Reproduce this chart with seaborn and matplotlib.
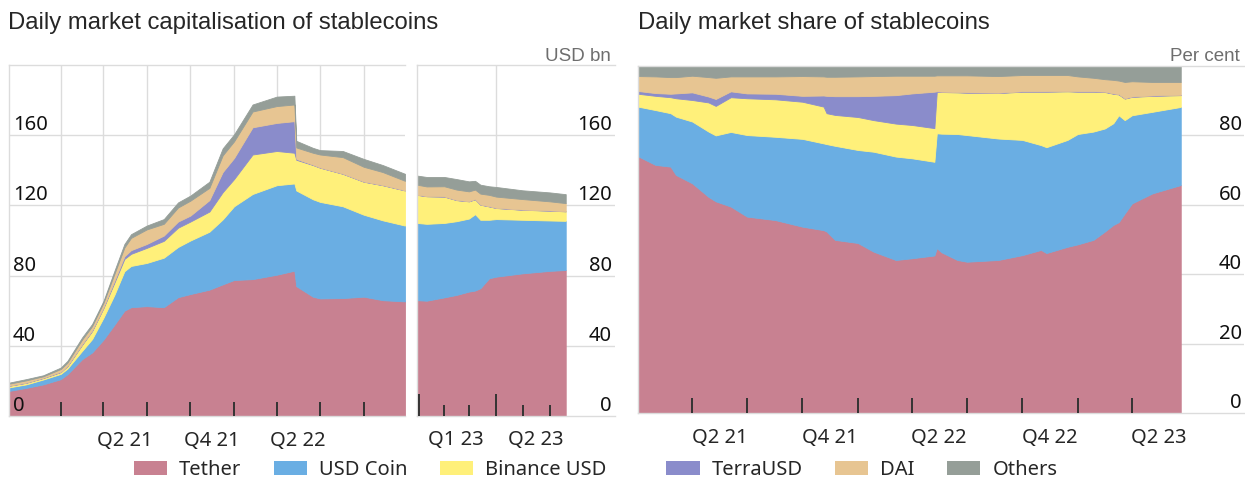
import pandas as pd
import matplotlib.pyplot as plt
import matplotlib.transforms as mtransforms
from matplotlib.patches import Patch
import seaborn as sns

sns.set_theme(style="white")
plt.rcParams['font.family'] = ['Noto Sans', 'DejaVu Sans']
plt.rcParams['axes.axisbelow'] = False

# ---- data: market capitalisation, USD bn (first block, Sep 2020 - Dec 2022)
dates_1 = ['2020-09-14', '2020-10-20', '2020-11-25', '2021-01-01', '2021-01-15', '2021-02-15',
           '2021-03-08', '2021-04-01', '2021-04-24', '2021-05-15', '2021-05-29', '2021-07-01',
           '2021-08-06', '2021-09-05', '2021-10-01', '2021-11-10', '2021-12-08', '2022-01-01',
           '2022-02-09', '2022-04-01', '2022-05-08', '2022-05-12', '2022-06-16', '2022-07-01',
           '2022-08-18', '2022-10-01', '2022-11-10', '2022-12-27']
tether_1 = [14.3, 16.0, 18.0, 21.0, 23.8, 32.4, 36.2, 43.5, 52.0, 60.0, 62.0, 62.6, 62.0, 67.7,
            69.5, 72.0, 75.0, 77.5, 78.0, 80.5, 82.8, 74.0, 68.0, 67.0, 67.2, 68.0, 66.0, 65.3]
usdc_1 = [2.0, 2.0, 2.8, 3.0, 3.2, 4.7, 7.6, 12.5, 17.0, 22.5, 23.5, 24.6, 28.2, 28.6,
          30.5, 33.0, 37.0, 42.0, 48.5, 51.0, 49.7, 54.5, 55.5, 55.0, 52.3, 46.7, 45.5, 43.2]
busd_1 = [0.9, 0.9, 0.8, 1.0, 1.4, 3.5, 4.6, 5.5, 7.0, 7.0, 6.9, 8.6, 9.6, 11.0,
          10.8, 11.5, 15.5, 15.5, 22.5, 19.5, 17.5, 17.5, 19.5, 19.5, 18.5, 18.8, 20.0, 20.0]
terra_1 = [0.1, 0.1, 0.2, 0.2, 0.2, 0.3, 0.4, 0.5, 1.0, 1.5, 2.1, 2.2, 3.0, 3.5,
           3.4, 6.5, 11.5, 12.0, 15.5, 16.0, 18.0, 0.5, 0.2, 0.1, 0.1, 0.1, 0.1, 0.1]
dai_1 = [1.1, 1.3, 0.8, 1.6, 1.8, 2.7, 2.4, 2.5, 4.0, 5.0, 7.0, 8.3, 6.7, 8.0,
         8.5, 7.0, 9.5, 9.5, 9.0, 9.6, 9.5, 6.5, 6.8, 7.4, 9.4, 8.4, 7.4, 5.4]
others_1 = [0.6, 0.7, 0.6, 0.8, 1.0, 1.2, 1.2, 1.1, 1.7, 2.0, 2.1, 2.2, 2.7, 2.9,
            2.9, 3.5, 4.0, 4.0, 4.0, 5.4, 5.0, 3.8, 2.8, 2.5, 3.5, 4.5, 4.0, 4.0]

# ---- data: market capitalisation, USD bn (second block, 2023)
dates_2 = ['2023-01-01', '2023-01-12', '2023-02-01', '2023-02-15', '2023-03-01', '2023-03-08',
           '2023-03-14', '2023-03-24', '2023-04-01', '2023-05-01', '2023-06-01', '2023-06-19']
tether_2 = [66.0, 65.7, 67.6, 69.0, 70.9, 71.5, 72.8, 78.5, 79.4, 81.3, 82.7, 83.2]
usdc_2 = [44.0, 43.8, 42.4, 42.0, 41.6, 43.5, 39.0, 33.3, 32.8, 30.5, 28.7, 28.0]
busd_2 = [16.0, 15.7, 15.0, 12.0, 9.8, 8.5, 8.6, 7.6, 6.3, 5.7, 5.6, 5.4]
terra_2 = [0.1, 0.1, 0.1, 0.1, 0.1, 0.1, 0.1, 0.1, 0.1, 0.1, 0.1, 0.1]
dai_2 = [5.7, 5.5, 5.8, 5.9, 5.6, 5.4, 6.2, 6.5, 6.4, 6.0, 5.2, 4.6]
others_2 = [5.2, 5.4, 5.3, 6.0, 5.7, 5.0, 5.1, 4.9, 5.5, 5.0, 5.1, 5.1]

# ---- data: market share, per cent
dates_s = ['2021-01-01', '2021-01-30', '2021-02-24', '2021-03-05', '2021-04-01', '2021-04-28',
           '2021-05-10', '2021-06-04', '2021-07-01', '2021-08-17', '2021-10-01', '2021-11-05',
           '2021-11-10', '2021-11-24', '2022-01-01', '2022-01-27', '2022-03-05', '2022-04-01',
           '2022-05-08', '2022-05-12', '2022-05-20', '2022-06-15', '2022-07-01', '2022-08-22',
           '2022-10-01', '2022-11-01', '2022-11-10', '2022-12-15', '2023-01-01', '2023-01-27',
           '2023-02-15', '2023-03-01', '2023-03-10', '2023-03-20', '2023-04-01', '2023-05-05',
           '2023-06-21']
tether_s = [74.0, 71.5, 71.0, 68.6, 66.2, 62.3, 61.0, 59.5, 56.6, 55.6, 53.7, 52.7, 52.3, 49.9,
            49.0, 46.5, 44.1, 44.6, 45.4, 47.5, 46.3, 44.1, 43.6, 44.1, 45.5, 47.0, 46.1, 47.9,
            48.6, 49.9, 52.3, 54.2, 55.0, 57.5, 60.4, 63.3, 65.7]
usdc_s = [14.3, 15.8, 15.4, 16.8, 17.8, 18.8, 19.0, 21.5, 23.5, 24.0, 25.3, 25.0, 25.2, 27.1,
          26.8, 28.8, 29.8, 28.8, 27.0, 33.1, 34.2, 36.3, 36.5, 35.0, 33.2, 30.2, 30.5, 30.8,
          31.8, 31.2, 29.7, 29.3, 30.8, 26.9, 25.4, 23.5, 22.5]
busd_s = [3.7, 4.1, 4.6, 5.3, 6.2, 8.4, 8.5, 10.0, 10.6, 10.8, 10.7, 10.6, 8.9, 8.9,
          9.5, 9.1, 9.5, 9.6, 9.7, 12.0, 12.0, 12.0, 12.2, 13.1, 13.9, 15.4, 16.0, 14.0,
          12.2, 11.5, 10.5, 8.5, 6.0, 6.2, 5.3, 4.6, 3.4]
terra_s = [0.8, 0.8, 1.0, 1.4, 2.2, 1.7, 2.0, 1.7, 1.4, 1.6, 1.7, 3.2, 5.0, 5.4,
           6.0, 7.0, 8.2, 9.1, 10.5, 0.1, 0.1, 0.1, 0.1, 0.1, 0.1, 0.1, 0.1, 0.1,
           0.1, 0.1, 0.1, 0.1, 0.1, 0.1, 0.1, 0.1, 0.1]
dai_s = [4.3, 4.8, 4.8, 4.7, 4.8, 5.6, 6.1, 4.3, 4.9, 5.0, 5.7, 5.5, 5.5, 5.6,
         5.7, 5.7, 5.6, 5.1, 4.6, 4.6, 4.7, 4.8, 4.9, 4.8, 4.7, 4.7, 4.7, 4.6,
         4.3, 3.9, 3.6, 3.9, 3.9, 4.7, 4.4, 3.9, 3.7]
others_s = [2.9, 3.0, 3.2, 3.2, 2.8, 3.2, 3.4, 3.0, 3.0, 3.0, 2.9, 3.0, 3.1, 3.1,
            3.0, 2.9, 2.8, 2.8, 2.8, 2.7, 2.7, 2.7, 2.7, 2.9, 2.6, 2.6, 2.6, 2.6,
            3.0, 3.4, 3.8, 4.0, 4.2, 4.6, 4.4, 4.6, 4.6]

coins = ['Tether', 'USD Coin', 'Binance USD', 'TerraUSD', 'DAI', 'Others']
palette = sns.color_palette(['#C88191', '#6AAEE3', '#FFF07A', '#8A8CCB', '#E7C592', '#959E98'])

GRID = '#dcdcdc'
TICK = '#333333'
FS = 14.5
W, H = 1245, 483


def px_box(x0, y0, x1, y1):
    return [x0 / W, 1 - y1 / H, (x1 - x0) / W, (y1 - y0) / H]


def draw_stack(ax, dates, series):
    polys = ax.stackplot(pd.to_datetime(dates), *series, colors=palette, linewidth=0.6, zorder=1)
    for p in polys:
        p.set_edgecolor(p.get_facecolor())


def frame(ax, ymax, yvals, side, offset_px):
    ax.set_axisbelow(False)
    ax.set_ylim(0, ymax)
    ax.set_yticks([])
    for s in ['top', 'left', 'bottom']:
        ax.spines[s].set_color(GRID)
        ax.spines[s].set_linewidth(1)
    ax.spines['right'].set_visible(False)
    for v in yvals[1:]:
        ax.axhline(v, color=GRID, lw=1, zorder=0)
    trans = mtransforms.blended_transform_factory(ax.transAxes, ax.transData)
    width_px = ax.get_position().width * W
    for v in yvals:
        if side == 'left':
            ax.text(offset_px / width_px, v, str(v), transform=trans, ha='left', va='bottom',
                    fontsize=FS, color='#111111', zorder=5)
        else:
            ax.text(1 - offset_px / width_px, v, str(v), transform=trans, ha='right', va='bottom',
                    fontsize=FS, color='#111111', zorder=5)


fig = plt.figure(figsize=(W / 100, H / 100), dpi=100)

# left panel, first block
ax1 = fig.add_axes(px_box(9, 65, 405, 416))
draw_stack(ax1, dates_1, [tether_1, usdc_1, busd_1, terra_1, dai_1, others_1])
ax1.set_xlim(pd.Timestamp('2020-09-14'), pd.Timestamp('2022-12-27'))
q_starts_1 = pd.to_datetime(['2021-01-01', '2021-04-01', '2021-07-01', '2021-10-01',
                             '2022-01-01', '2022-04-01', '2022-07-01', '2022-10-01'])
for d in q_starts_1:
    ax1.axvline(d, color=GRID, lw=1, zorder=0)
frame(ax1, 200, [0, 40, 80, 120, 160], 'left', 4)
ax1.set_xticks(q_starts_1)
ax1.set_xticks(pd.to_datetime(['2021-05-16', '2021-11-15', '2022-05-16']),
               labels=['Q2 21', 'Q4 21', 'Q2 22'], minor=True)
ax1.tick_params(axis='x', which='major', bottom=True, direction='in', length=10, width=1.4,
                color=TICK, labelbottom=False)
ax1.tick_params(axis='x', which='minor', bottom=True, length=0, pad=11, labelsize=FS)

# left panel, second block (2023)
ax2 = fig.add_axes(px_box(417, 65, 615, 416))
draw_stack(ax2, dates_2, [tether_2, usdc_2, busd_2, terra_2, dai_2, others_2])
ax2.set_xlim(pd.Timestamp('2023-01-01'), pd.Timestamp('2023-08-14'))
ax2.axvline(pd.Timestamp('2023-04-01'), color=GRID, lw=1, zorder=0)
frame(ax2, 200, [0, 40, 80, 120, 160], 'right', 3)
ax2.set_xticks(pd.to_datetime(['2023-01-03', '2023-04-01']))
ax2.set_xticks(pd.to_datetime(['2023-02-01', '2023-03-01', '2023-05-01', '2023-06-01']), minor=True)
ax2.tick_params(axis='x', which='major', bottom=True, direction='in', length=16, width=1.4,
                color=TICK, labelbottom=False)
ax2.tick_params(axis='x', which='minor', bottom=True, direction='in', length=8, width=1.4,
                color=TICK, labelbottom=False)
trans2 = mtransforms.blended_transform_factory(ax2.transData, ax2.transAxes)
for d, lab in zip(pd.to_datetime(['2023-02-14', '2023-05-16']), ['Q1 23', 'Q2 23']):
    ax2.text(d, -0.04, lab, transform=trans2, ha='center', va='top', fontsize=FS)

# right panel, market share
ax3 = fig.add_axes(px_box(638, 66, 1244, 413))
draw_stack(ax3, dates_s, [tether_s, usdc_s, busd_s, terra_s, dai_s, others_s])
ax3.set_xlim(pd.Timestamp('2021-01-01'), pd.Timestamp('2023-10-04'))
frame(ax3, 100, [0, 20, 40, 60, 80], 'right', 2)
ax3.set_xticks(pd.date_range('2021-04-01', '2023-04-01', freq='QS'))
ax3.set_xticks(pd.to_datetime(['2021-05-16', '2021-11-15', '2022-05-16', '2022-11-15', '2023-05-16']),
               labels=['Q2 21', 'Q4 21', 'Q2 22', 'Q4 22', 'Q2 23'], minor=True)
ax3.tick_params(axis='x', which='major', bottom=True, direction='in', length=11, width=1.4,
                color=TICK, labelbottom=False)
ax3.tick_params(axis='x', which='minor', bottom=True, length=0, pad=11, labelsize=FS)

# titles and units
fig.text(8 / W, 1 - 29 / H, 'Daily market capitalisation of stablecoins', fontsize=17.2,
         family='Liberation Sans', va='baseline', ha='left')
fig.text(638 / W, 1 - 29 / H, 'Daily market share of stablecoins', fontsize=17.2,
         family='Liberation Sans', va='baseline', ha='left')
fig.text(611 / W, 1 - 61 / H, 'USD bn', fontsize=13.5, family='Liberation Sans',
         color='#6e6e6e', va='baseline', ha='right')
fig.text(1240 / W, 1 - 61 / H, 'Per cent', fontsize=13.5, family='Liberation Sans',
         color='#6e6e6e', va='baseline', ha='right')

# legend
handles = [Patch(facecolor=c, edgecolor='none', label=n) for c, n in zip(palette, coins)]
leg_kw = dict(loc='center', ncol=3, frameon=False, fontsize=FS, handlelength=1.65,
              handleheight=0.75, handletextpad=0.6, columnspacing=1.6)
fig.legend(handles=handles[:3], bbox_to_anchor=(370 / W, 1 - 470 / H), **leg_kw)
fig.legend(handles=handles[3:], bbox_to_anchor=(862 / W, 1 - 470 / H), **leg_kw)

fig.savefig('out.png', dpi=100)
